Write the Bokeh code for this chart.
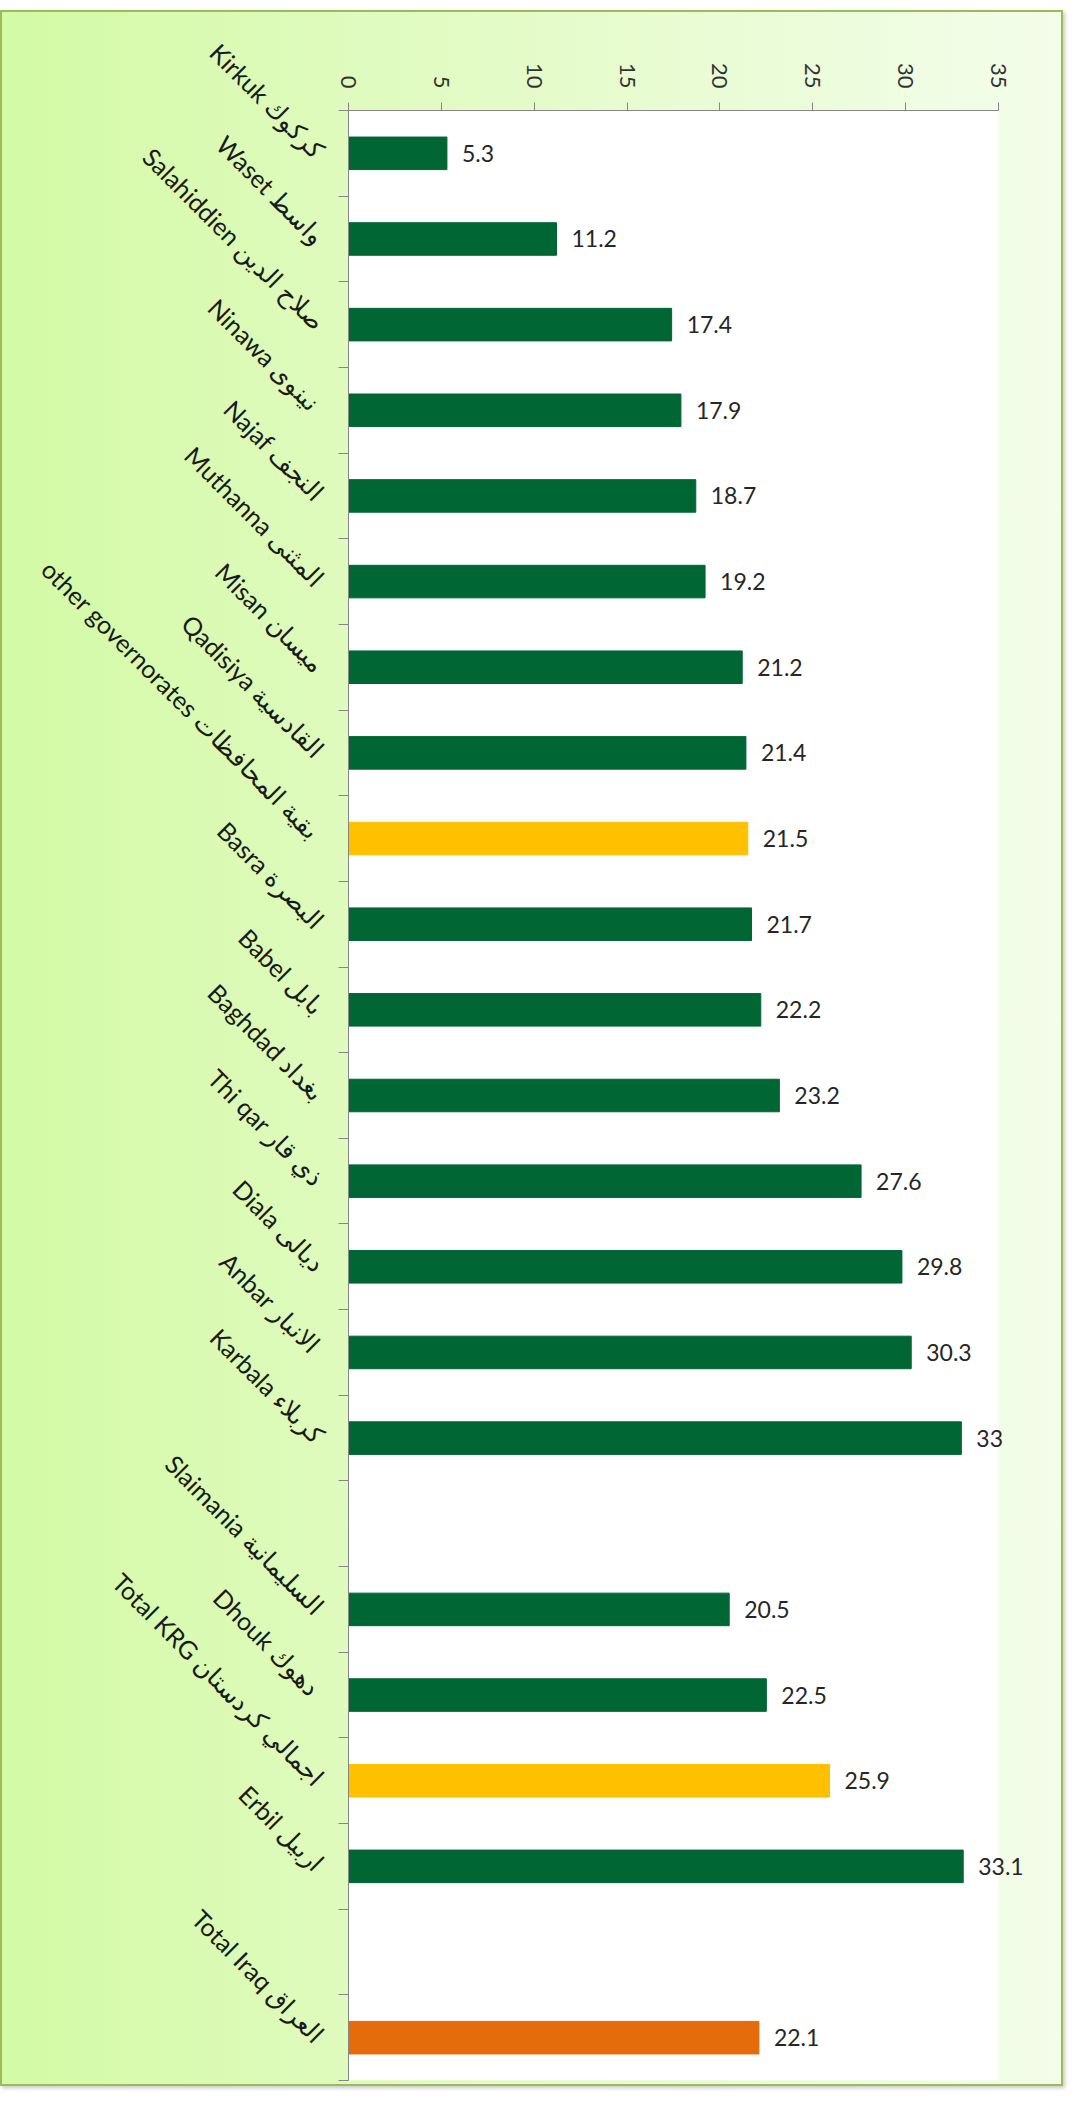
import math
from bokeh.plotting import figure
from bokeh.models import ColumnDataSource, Range1d, FixedTicker, LabelSet, BoxAnnotation
from bokeh.embed import file_html
from bokeh.resources import INLINE
from bokeh.core.properties import value

# ---- data -------------------------------------------------------------
categories = [
    "Kirkuk كركوك",
    "Waset واسط",
    "Salahiddien صلاح الدين",
    "Ninawa  نينوى",
    "Najaf النجف",
    "Muthanna المثنى",
    "Misan ميسان",
    "Qadisiya القادسية",
    "other governorates  بقية المحافظات",
    "Basra البصرة",
    "Babel بابل",
    "Baghdad بغداد",
    "Thi qar ذي قار",
    "Diala ديالى",
    "Anbar  الانبار",
    "Karbala كربلاء",
    "",
    "Slaimania السليمانية",
    "Dhouk  دهوك",
    "Total KRG اجمالي كردستان",
    "Erbil اربيل",
    "",
    "Total Iraq العراق",
]
values = [5.3, 11.2, 17.4, 17.9, 18.7, 19.2, 21.2, 21.4, 21.5, 21.7, 22.2,
          23.2, 27.6, 29.8, 30.3, 33, None, 20.5, 22.5, 25.9, 33.1, None, 22.1]
kinds = ["gov", "gov", "gov", "gov", "gov", "gov", "gov", "gov", "subtotal",
         "gov", "gov", "gov", "gov", "gov", "gov", "gov", None,
         "gov", "gov", "subtotal", "gov", None, "total"]
x_ticks = [0, 5, 10, 15, 20, 25, 30, 35]
axis_max = 35

palette = {"gov": "#006633", "subtotal": "#FFC000", "total": "#E46C0A"}

# ---- build source ----------------------------------------------------
ys, xs, cols, labs = [], [], [], []
for i, (v, k) in enumerate(zip(values, kinds)):
    if v is None:
        continue
    ys.append(i)
    xs.append(v)
    cols.append(palette[k])
    labs.append(f"{v:g}")
src = ColumnDataSource(dict(y=ys, x=xs, color=cols, label=labs))

n = len(categories)

# layout (pixels)
W, H = 1063, 2076
mb_left, mb_right, mb_top, mb_bottom = 346, 4, 98, 8
axis_px = 650                      # pixel length of 0..axis_max
frame_px = W - mb_left - mb_right
x_end = axis_max * frame_px / axis_px

p = figure(width=W, height=H,
           x_range=Range1d(0, x_end), y_range=Range1d(n - 0.5, -0.5),
           x_axis_location="above",
           output_backend="svg", toolbar_location=None,
           min_border_left=mb_left, min_border_right=mb_right,
           min_border_top=mb_top, min_border_bottom=mb_bottom)

# white plotting area only up to axis_max
p.add_layout(BoxAnnotation(left=0, right=axis_max, fill_color="white",
                           fill_alpha=1.0, line_color=None, level="underlay"))

p.hbar(y="y", left=0, right="x", height=0.38, fill_color="color",
       line_color="color", source=src)

p.add_layout(LabelSet(x="x", y="y", text="label", source=src, x_offset=15,
                      text_baseline="middle", text_align="left",
                      text_font=value("Lato"), text_font_size=value("23px"),
                      text_color="#262626"))

# ---- axes ------------------------------------------------------------
gray = "#868686"
xa = p.xaxis[0]
xa.ticker = FixedTicker(ticks=x_ticks)
xa.bounds = (0, axis_max)
xa.major_label_orientation = -math.pi / 2
xa.major_tick_in = 0
xa.major_tick_out = 8
xa.minor_tick_line_color = None
xa.axis_line_color = gray
xa.major_tick_line_color = gray
xa.major_label_standoff = 14
xa.major_label_text_font = "Lato"
xa.major_label_text_font_size = "22px"
xa.major_label_text_color = "#333333"

ya = p.yaxis[0]
ya.ticker = FixedTicker(ticks=list(range(n)),
                        minor_ticks=[i - 0.5 for i in range(n + 1)])
ya.major_label_overrides = {i: lab for i, lab in enumerate(categories)}
ya.major_tick_line_color = None
ya.major_tick_in = 0
ya.major_tick_out = 0
ya.minor_tick_in = 0
ya.minor_tick_out = 10
ya.minor_tick_line_color = gray
ya.axis_line_color = gray
ya.major_label_orientation = -math.pi / 4
ya.major_label_standoff = 18
ya.major_label_text_font = "Lato"
ya.major_label_text_font_size = "25px"
ya.major_label_text_color = "#1a1a1a"

p.xgrid.grid_line_color = None
p.ygrid.grid_line_color = None
p.outline_line_color = None
p.background_fill_color = None
p.border_fill_color = None
p.styles = {
    "margin-top": "10px",
    "background-image": "linear-gradient(to right, #d3faa5 0%, #e3fbc6 45%, #f3fdea 100%)",
    "border": "2px solid #9bbb59",
    "box-shadow": "2px 2px 4px #c8c8c8",
}

open("out.html", "w").write(file_html(p, INLINE))
